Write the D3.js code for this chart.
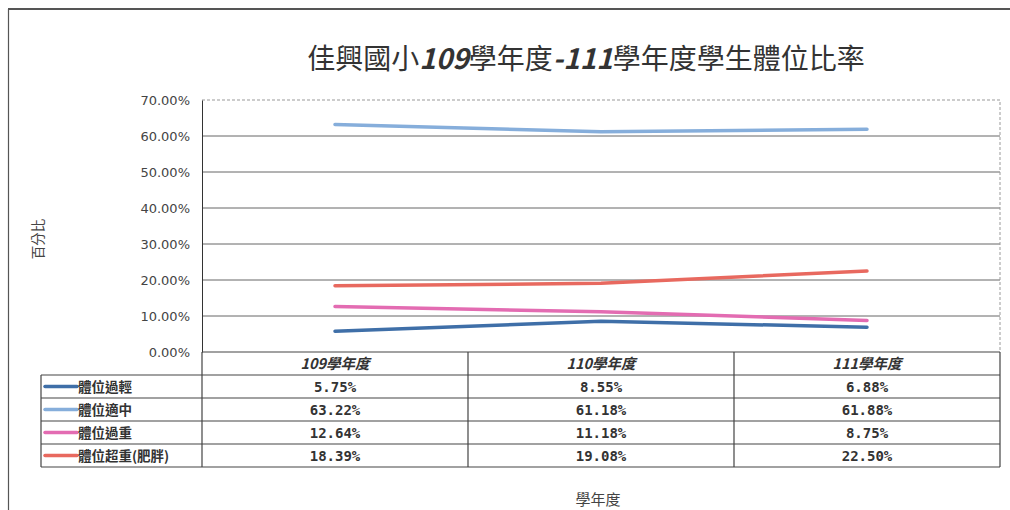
<!DOCTYPE html>
<html>
<head>
<meta charset="utf-8">
<script src="https://cdn.jsdelivr.net/npm/d3@7"></script>
<style>
  body { margin: 0; background: #fff; }
  svg { display: block; }
  .tick-label { font-family: 'DejaVu Sans', sans-serif; font-size: 13px; fill: #444; }
  .cell { font-family: 'Noto Sans CJK TC', sans-serif; font-size: 13.5px; font-weight: bold; fill: #333; }
</style>
</head>
<body>
<div id="chart"></div>
<script>
const years = ['109學年度', '110學年度', '111學年度'];
const seriesNames = ['體位過輕', '體位適中', '體位過重', '體位超重(肥胖)'];
const underweight = [5.75, 8.55, 6.88];
const normal = [63.22, 61.18, 61.88];
const overweight = [12.64, 11.18, 8.75];
const obese = [18.39, 19.08, 22.50];
const yTicks = [0, 10, 20, 30, 40, 50, 60, 70];
const colors = ['#3f6fa8', '#86aedb', '#e36cb2', '#e8695f'];

const seriesValues = [underweight, normal, overweight, obese];

const W = 1010, H = 510;
const plot = { left: 202, right: 1000, top: 100, bottom: 352 };
const rowH = 23;

const svg = d3.select('#chart').append('svg')
  .attr('width', W).attr('height', H);

// outer frame
svg.append('line').attr('x1', 8).attr('x2', W).attr('y1', 9).attr('y2', 9)
  .attr('stroke', '#555').attr('stroke-width', 2);
svg.append('line').attr('x1', 8.5).attr('x2', 8.5).attr('y1', 9).attr('y2', H)
  .attr('stroke', '#555').attr('stroke-width', 1.2);

// title
const title = svg.append('text')
  .attr('x', 586).attr('y', 69)
  .attr('text-anchor', 'middle')
  .style('font-family', "'Noto Sans CJK TC', sans-serif")
  .style('font-size', '28px')
  .attr('fill', '#333');
title.append('tspan').text('佳興國小');
title.append('tspan').text('109').style('font-weight', 'bold').style('font-style', 'italic');
title.append('tspan').text('學年度');
title.append('tspan').text('-111').style('font-weight', 'bold').style('font-style', 'italic');
title.append('tspan').text('學年度學生體位比率');

const x = d3.scaleBand()
  .domain(years)
  .range([plot.left, plot.right])
  .padding(0);

const y = d3.scaleLinear()
  .domain([0, 70])
  .range([plot.bottom, plot.top]);

// gridlines
svg.append('g').selectAll('line')
  .data(yTicks.filter(d => d > 0 && d < 70))
  .enter().append('line')
  .attr('x1', plot.left).attr('x2', plot.right)
  .attr('y1', d => y(d)).attr('y2', d => y(d))
  .attr('stroke', '#666').attr('stroke-width', 1);

// top & right border (dashed light)
svg.append('path')
  .attr('d', `M${plot.left},${y(70)}H${plot.right}V${plot.bottom}`)
  .attr('fill', 'none').attr('stroke', '#999').attr('stroke-dasharray', '3,2');

// y axis
const yAxis = svg.append('g')
  .attr('transform', `translate(${plot.left},0)`)
  .call(d3.axisLeft(y).tickValues(yTicks).tickSize(0).tickPadding(12)
    .tickFormat(d => d3.format('.2f')(d) + '%'));
yAxis.select('.domain').attr('stroke', '#333');
yAxis.selectAll('text').attr('class', 'tick-label');

// y axis title
svg.append('text')
  .attr('transform', 'translate(43,239) rotate(-90)')
  .attr('text-anchor', 'middle')
  .style('font-family', "'Noto Sans CJK TC', sans-serif")
  .style('font-size', '13.5px')
  .attr('fill', '#444')
  .text('百分比');

// lines
const line = d3.line()
  .x((d, i) => x(years[i]) + x.bandwidth() / 2)
  .y(d => y(d));

svg.append('g').selectAll('path')
  .data(seriesValues)
  .enter().append('path')
  .attr('d', d => line(d))
  .attr('fill', 'none')
  .attr('stroke', (d, i) => colors[i])
  .attr('stroke-width', 3.5)
  .attr('stroke-linecap', 'round');

// data table
const rows = d3.scaleBand()
  .domain(['header'].concat(seriesNames))
  .range([plot.bottom, plot.bottom + rowH * 5]);

const table = svg.append('g');
const legendLeft = 41;
const tBottom = plot.bottom + rowH * 5;

// horizontal lines
table.selectAll('.hline')
  .data(['header'].concat(seriesNames).concat(['end']))
  .enter().append('line')
  .attr('x1', (d, i) => i === 0 ? plot.left : legendLeft)
  .attr('x2', plot.right)
  .attr('y1', (d, i) => plot.bottom + i * rowH)
  .attr('y2', (d, i) => plot.bottom + i * rowH)
  .attr('stroke', '#444').attr('stroke-width', 1.2);

// vertical lines
const vx = [plot.left].concat(years.map(d => x(d) + x.bandwidth()));
table.selectAll('.vline')
  .data(vx)
  .enter().append('line')
  .attr('x1', d => d).attr('x2', d => d)
  .attr('y1', plot.bottom).attr('y2', tBottom)
  .attr('stroke', '#444').attr('stroke-width', 1.2);
table.append('line')
  .attr('x1', legendLeft).attr('x2', legendLeft)
  .attr('y1', rows(seriesNames[0])).attr('y2', tBottom)
  .attr('stroke', '#444').attr('stroke-width', 1.2);

// header
table.selectAll('.hdr')
  .data(years)
  .enter().append('text')
  .attr('class', 'cell')
  .attr('x', d => x(d) + x.bandwidth() / 2)
  .attr('y', rows('header') + rowH / 2 + 5)
  .attr('text-anchor', 'middle')
  .style('font-style', 'italic')
  .style('font-size', '14.5px')
  .text(d => d);

// legend keys + values
seriesNames.forEach((name, si) => {
  const ry = rows(name) + rowH / 2;
  table.append('line')
    .attr('x1', 45).attr('x2', 77)
    .attr('y1', ry).attr('y2', ry)
    .attr('stroke', colors[si]).attr('stroke-width', 3.5)
    .attr('stroke-linecap', 'round');
  table.append('text')
    .attr('class', 'cell')
    .attr('x', 78).attr('y', ry + 5)
    .text(name);
  table.selectAll(null)
    .data(seriesValues[si])
    .enter().append('text')
    .attr('class', 'cell')
    .attr('x', (d, i) => x(years[i]) + x.bandwidth() / 2)
    .attr('y', ry + 5)
    .attr('text-anchor', 'middle')
    .style('font-family', "'DejaVu Sans Mono', monospace")
    .style('font-size', '14px')
    .text(d => d3.format('.2f')(d) + '%');
});

// x axis title
svg.append('text')
  .attr('x', 598).attr('y', 505)
  .attr('text-anchor', 'middle')
  .style('font-family', "'Noto Sans CJK TC', sans-serif")
  .style('font-size', '15px')
  .attr('fill', '#444')
  .text('學年度');
</script>
</body>
</html>
